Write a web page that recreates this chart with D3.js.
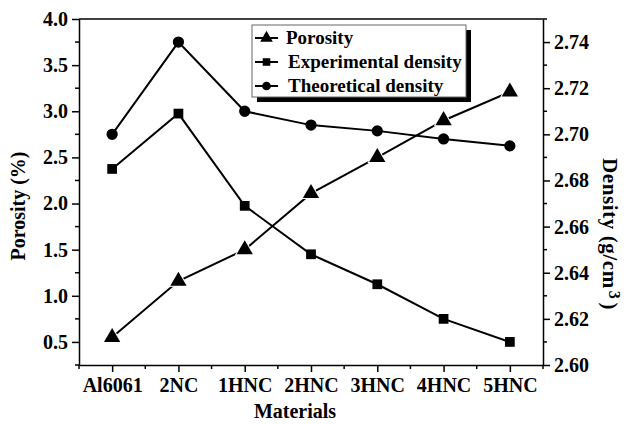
<!DOCTYPE html>
<html>
<head>
<meta charset="utf-8">
<script src="https://d3js.org/d3.v7.min.js"></script>
<style>
  body { margin: 0; background: #fff; }
  text { font-family: "Liberation Serif", "Times New Roman", serif; font-weight: bold; fill: #000; }
</style>
</head>
<body>
<svg width="627" height="424"></svg>

<script>

var materials = ["Al6061", "2NC", "1HNC", "2HNC", "3HNC", "4HNC", "5HNC"];
var porosity = [0.55, 1.16, 1.5, 2.11, 2.5, 2.9, 3.21];
var experimental = [2.685, 2.709, 2.669, 2.648, 2.635, 2.620, 2.610];
var theoretical = [2.700, 2.740, 2.710, 2.704, 2.7015, 2.698, 2.695];
var leftTicks = [0.5, 1.0, 1.5, 2.0, 2.5, 3.0, 3.5, 4.0];
var rightTicks = [2.60, 2.62, 2.64, 2.66, 2.68, 2.70, 2.72, 2.74];

var svg = d3.select("svg"),
    margin = {top: 19, right: 84, bottom: 59, left: 79},
    width = 627 - margin.left - margin.right,
    height = 424 - margin.top - margin.bottom;

var g = svg.append("g").attr("transform", "translate(" + margin.left + "," + margin.top + ")");

var x = d3.scaleLinear().domain([-0.5, materials.length - 0.5]).range([0, width]);
var yL = d3.scaleLinear().domain([0.25, 4.0]).range([height, 0]);
var yR = d3.scaleLinear().domain([2.60, 2.75]).range([height, 0]);

// top frame line
g.append("line").attr("x1", 0).attr("x2", width).attr("y1", 0).attr("y2", 0)
    .attr("stroke", "#000").attr("stroke-width", 1.5);

// x axis: major ticks at categories, minor at boundaries
var xAxis = g.append("g").attr("transform", "translate(0," + height + ")")
    .call(d3.axisBottom(x).tickValues(d3.range(materials.length))
      .tickFormat(function(i) { return materials[i]; }).tickSize(7).tickSizeOuter(0));
g.append("g").attr("transform", "translate(0," + height + ")")
    .selectAll("line").data(d3.range(-0.5, materials.length, 1)).enter().append("line")
    .attr("x1", x).attr("x2", x).attr("y1", 0).attr("y2", 4)
    .attr("stroke", "#000").attr("stroke-width", 1.5);
xAxis.selectAll("text").attr("font-size", 20).attr("dy", "0.85em");

// left axis
var leftAxis = g.append("g")
    .call(d3.axisLeft(yL).tickValues(leftTicks).tickFormat(d3.format(".1f")).tickSize(7).tickSizeOuter(0));
g.append("g").selectAll("line").data(d3.range(0.25, 4.0, 0.5)).enter().append("line")
    .attr("x1", 0).attr("x2", -4).attr("y1", yL).attr("y2", yL)
    .attr("stroke", "#000").attr("stroke-width", 1.5);
leftAxis.selectAll("text").attr("font-size", 20).attr("dx", "-0.05em");

// right axis
var rightAxis = g.append("g").attr("transform", "translate(" + width + ",0)")
    .call(d3.axisRight(yR).tickValues(rightTicks).tickFormat(d3.format(".2f")).tickSize(7).tickSizeOuter(0));
g.append("g").attr("transform", "translate(" + width + ",0)")
    .selectAll("line").data(d3.range(2.61, 2.75, 0.02)).enter().append("line")
    .attr("x1", 0).attr("x2", 4).attr("y1", yR).attr("y2", yR)
    .attr("stroke", "#000").attr("stroke-width", 1.5);
rightAxis.selectAll("text").attr("font-size", 20).attr("dx", "0.05em");

svg.selectAll(".domain, .tick line").attr("stroke", "#000").attr("stroke-width", 1.5);
svg.selectAll(".tick text").style("font-family", "Liberation Serif").style("font-weight", "bold");

// axis titles
svg.append("text").attr("transform", "translate(295,418)")
    .attr("text-anchor", "middle").attr("font-size", 20).text("Materials");
svg.append("text").attr("transform", "translate(25,206) rotate(-90)")
    .attr("text-anchor", "middle").attr("font-size", 20).text("Porosity (%)");
var rt = svg.append("text").attr("transform", "translate(603,234) rotate(90)")
    .attr("text-anchor", "middle").attr("font-size", 21).attr("letter-spacing", 0.6);
rt.append("tspan").text("Density (g/cm");
rt.append("tspan").attr("dx", 2).attr("dy", -6).attr("font-size", 16).text("3");
rt.append("tspan").attr("dx", 3).attr("dy", 6).text(")");

// series
var series = [
  {name: "Porosity", values: porosity, y: yL, shape: d3.symbolTriangle, size: 115},
  {name: "Experimental density", values: experimental, y: yR, shape: d3.symbolSquare, size: 95},
  {name: "Theoretical density", values: theoretical, y: yR, shape: d3.symbolCircle, size: 100}
];

series.forEach(function(s) {
  var line = d3.line().x(function(d, i) { return x(i); }).y(function(d) { return s.y(d); });
  g.append("path").datum(s.values).attr("d", line)
      .attr("fill", "none").attr("stroke", "#000").attr("stroke-width", 2);
  g.selectAll(null).data(s.values).enter().append("path")
      .attr("d", d3.symbol().type(s.shape).size(s.size))
      .attr("transform", function(d, i) { return "translate(" + x(i) + "," + s.y(d) + ")"; })
      .attr("fill", "#000")
      .attr("stroke", s.shape === d3.symbolTriangle ? "#fff" : "none")
      .attr("stroke-width", 2).attr("paint-order", "stroke");
});

// legend
var lg = svg.append("g").attr("transform", "translate(252,25)");
lg.append("rect").attr("x", 5).attr("y", 5).attr("width", 214).attr("height", 72).attr("fill", "#000");
lg.append("rect").attr("width", 214).attr("height", 72).attr("fill", "#fff")
    .attr("stroke", "#666").attr("stroke-width", 1);
series.forEach(function(s, i) {
  var yy = 13 + i * 24;
  lg.append("line").attr("x1", 3).attr("x2", 26).attr("y1", yy).attr("y2", yy)
      .attr("stroke", "#000").attr("stroke-width", 2);
  lg.append("path").attr("d", d3.symbol().type(s.shape).size(s.size * 0.6))
      .attr("transform", "translate(14.5," + yy + ")").attr("fill", "#000");
  lg.append("text").attr("x", i === 0 ? 34 : 36).attr("y", yy).attr("dy", "0.32em")
      .attr("font-size", 19).text(s.name);
});

</script>
</body>
</html>
